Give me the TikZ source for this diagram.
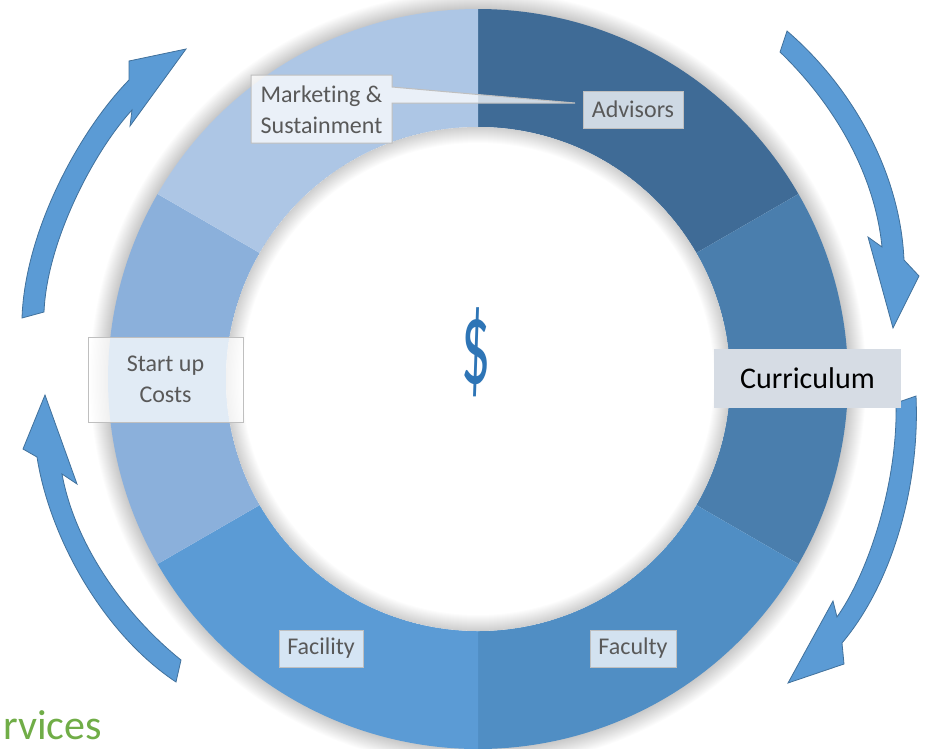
\documentclass[tikz,border=0pt]{standalone}
\usepackage{fontspec}
\setmainfont{Carlito}[Ligatures={NoCommon}]
\definecolor{cAdv}{HTML}{3F6B96}
\definecolor{cCur}{HTML}{4A7EAD}
\definecolor{cFac}{HTML}{508EC4}
\definecolor{cFcl}{HTML}{5B9BD5}
\definecolor{cStu}{HTML}{8BB0DB}
\definecolor{cMkt}{HTML}{ADC6E5}
\definecolor{arrowfill}{HTML}{5B9BD5}
\definecolor{arrowline}{HTML}{41719C}
\definecolor{labtext}{HTML}{595959}
\definecolor{labline}{HTML}{BFBFBF}
\definecolor{curfill}{HTML}{D6DCE4}
\definecolor{dollarblue}{HTML}{2E75B6}
\definecolor{svcgreen}{HTML}{70AD47}
\newcommand\ringseg[3]{\fill[#1] ([shift={(#2:370)}]c) arc[start angle=#2,end angle=#3,radius=370] -- ([shift={(#3:252)}]c) arc[start angle=#3,end angle=#2,radius=252] -- cycle;}
\begin{document}
\begin{tikzpicture}[x=1pt,y=-1pt,
  lab/.style={draw=labline, fill=white, fill opacity=0.75, text opacity=1, text=labtext,
    font=\fontsize{24}{31}\selectfont, inner sep=0pt, align=center, line width=1pt},
  labtxt/.style={text=labtext, font=\fontsize{24}{31}\selectfont, inner sep=0pt, align=center},
  cyc/.style={fill=arrowfill, draw=arrowline, line width=0.8pt, line join=miter}]
\useasboundingbox (0,0) rectangle (930,748);
\clip (0,0) rectangle (930,748);
\fill[white] (0,0) rectangle (930,748);
\coordinate (c) at (478,379);
% outer glow
\foreach \i in {1,...,18} {\fill[black, opacity=0.011, even odd rule] (c) circle[radius=370+\i] (c) circle[radius=369];}
% ring
\ringseg{cAdv}{-90}{-30}
\ringseg{cCur}{-30}{30}
\ringseg{cFac}{30}{90}
\ringseg{cFcl}{90}{150}
\ringseg{cStu}{150}{210}
\ringseg{cMkt}{210}{270}
\fill[white] (c) circle[radius=252];
% inner shadow
\foreach \i in {1,...,16} {\fill[black, opacity=0.012, even odd rule] (c) circle[radius=252] (c) circle[radius=252-\i];}
% cycle arrows
\path[cyc] (22,318) .. controls (25,230) and (80,130) .. (129,80) -- (129,61) -- (186,49)
  -- (130,126) -- (132,110) .. controls (95,150) and (47,240) .. (44,312) -- cycle;
\path[cyc] (45,395) -- (23,449) -- (37,457) .. controls (50,540) and (105,635) .. (176,682)
  -- (181,660) .. controls (125,615) and (75,545) .. (62,474) -- (77,484) -- cycle;
\path[cyc] (787,31) .. controls (850,85) and (900,170) .. (904,260) -- (919,276) -- (893,328)
  -- (868,237) -- (882,247) .. controls (875,175) and (835,105) .. (780,52) -- cycle;
\path[cyc] (916,396) .. controls (920,480) and (895,580) .. (842,643) -- (844,664) -- (788,683)
  -- (833,601) -- (837,617) .. controls (870,570) and (898,480) .. (896,403) -- cycle;
% labels
\node[lab, minimum width=100, minimum height=37] (adv) at (633,109.5) {Advisors};
\coordinate (advtip) at (575,103);
\fill[white, opacity=0.75] (251,75) -- (392,75) -- (392,87) -- (advtip) -- (392,103) -- (392,143) -- (251,143) -- cycle;
\draw[labline, line width=1pt, line join=miter] (251,75) -- (392,75) -- (392,87) -- (advtip) -- (392,103) -- (392,143) -- (251,143) -- cycle;
\node[labtxt] (mkt) at (321.5,110) {Marketing \&\\Sustainment};
\node[lab, minimum width=155, minimum height=85] (stu) at (165.5,379.5) {Start up\\Costs};
\node[lab, minimum width=84, minimum height=37] (fcl) at (321,648.5) {Facility};
\node[lab, minimum width=86, minimum height=37] (fac) at (633,648.5) {Faculty};
\node[fill=curfill, minimum width=187, minimum height=59, inner sep=0pt, text=black,
  font=\fontsize{30}{36}\selectfont] (cur) at (807.5,378.5) {Curriculum};
\node[text=dollarblue, inner sep=0pt, font=\fontsize{120}{120}\selectfont] (usd) at (476,352) {\scalebox{0.48}[1]{\$}};
\node[anchor=base east, text=svcgreen, inner sep=0pt, font=\fontsize{42}{48}\selectfont] (svc) at (102,739) {rvices};
\end{tikzpicture}
\end{document}
